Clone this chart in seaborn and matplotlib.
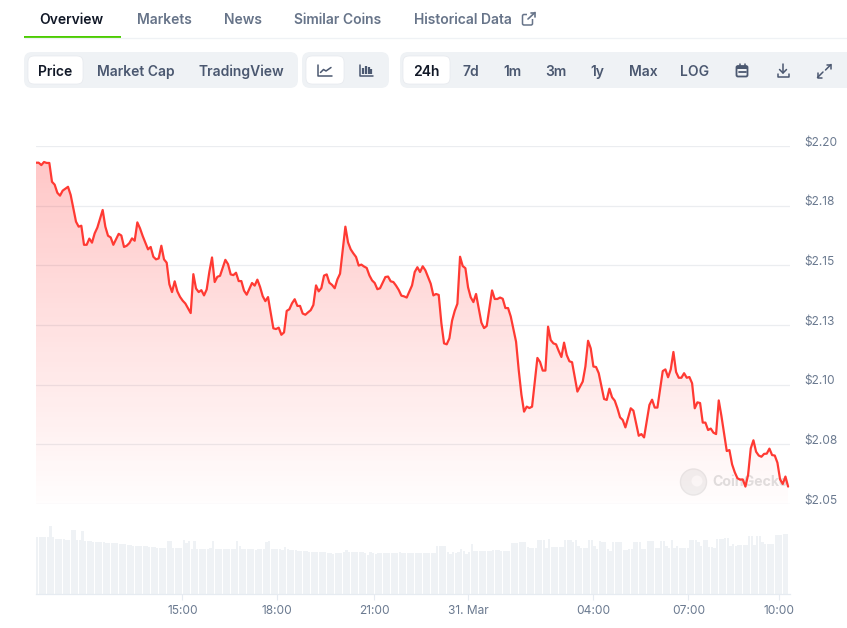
import numpy as np
import matplotlib
matplotlib.use("Agg")
import matplotlib.pyplot as plt
from matplotlib.patches import FancyBboxPatch, Circle, Rectangle
from matplotlib.colors import LinearSegmentedColormap
from matplotlib.transforms import ScaledTranslation
import seaborn as sns

# ---------- data ----------
price_samples = [0,1,2,3,4,5,6,7,8,9,10,12,13,14,15,16,17,18,19,20,21,22,23,25,26,27,28,29,31,32,33,34,35,36,37,38,39,40,
 42,43,44,45,46,47,48,49,50,51,52,53,54,55,56,57,58,59,60,61,62,63,64,65,66,67,68,69,71,72,73,74,75,76,77,78,79,81,82,83,84,85,86,87,
 89,90,91,92,93,94,95,96,97,98,99,100,101,102,103,104,105,106,107,108,109,110,111,112,113,114,116,117,118,119,120,121,122,123,124,125,126,127,128,129,
 131,132,133,134,135,136,137,138,139,141,142,143,144,145,146,148,149,150,151,152,153,154,155,156,157,158,159,160,161,162,163,164,165,166,167,168,169,
 171,172,173,174,175,176,177,178,180,181,182,183,184,185,186,188,189,190,191,192,193,194,195,196,197,198,199,200,201,203,205,206,207,208,209,210,211,
 213,214,215,216,217,218,219,220,221,223,224,226,227,228,230,231,232,233,235,236,237,238,239,240,241,242,243,244,245,246,247,248,249,250,251,252,253,254,255,
 256,257,258,259,260,261,262,263,264,265,266,267,268,269,270,271,272,273,274,275,276,277,278,279,280,281,282]
price_values = [2.1930,2.1930,2.1920,2.1933,2.1929,2.1929,2.1850,2.1838,2.1804,2.1792,2.1813,2.1829,2.1795,2.1739,2.1683,2.1662,2.1666,2.1586,2.1586,2.1612,2.1595,2.1634,2.1658,2.1732,2.1662,2.1624,2.1617,2.1586,2.1632,2.1625,2.1577,2.1582,2.1593,2.1613,2.1603,2.1680,2.1655,2.1623,
 2.1567,2.1577,2.1536,2.1525,2.1529,2.1582,2.1525,2.1511,2.1421,2.1388,2.1433,2.1391,2.1368,2.1352,2.1340,2.1320,2.1300,2.1463,2.1403,2.1388,2.1396,2.1374,2.1399,2.1473,2.1533,2.1430,2.1452,2.1456,2.1523,2.1505,2.1462,2.1459,2.1469,2.1434,2.1434,2.1394,2.1377,2.1426,2.1415,2.1440,2.1410,2.1371,2.1350,2.1367,
 2.1236,2.1233,2.1239,2.1209,2.1219,2.1309,2.1316,2.1341,2.1358,2.1330,2.1330,2.1298,2.1293,2.1303,2.1312,2.1334,2.1416,2.1391,2.1405,2.1457,2.1462,2.1427,2.1418,2.1404,2.1441,2.1465,2.1662,2.1596,2.1567,2.1550,2.1535,2.1499,2.1503,2.1495,2.1489,2.1458,2.1437,2.1426,2.1400,2.1404,
 2.1451,2.1453,2.1433,2.1430,2.1415,2.1397,2.1373,2.1370,2.1365,2.1416,2.1472,2.1492,2.1472,2.1496,2.1479,2.1423,2.1374,2.1380,2.1376,2.1257,2.1173,2.1169,2.1194,2.1268,2.1309,2.1339,2.1536,2.1497,2.1488,2.1408,2.1366,2.1346,2.1380,2.1320,2.1260,2.1237,2.1246,
 2.1395,2.1359,2.1359,2.1365,2.1360,2.1321,2.1321,2.1286,2.1180,2.1061,2.0959,2.0887,2.0908,2.0902,2.0908,2.1112,2.1095,2.1059,2.1059,2.1243,2.1187,2.1173,2.1169,2.1141,2.1116,2.1176,2.1124,2.1098,2.1094,2.0971,2.1013,2.1076,2.1184,2.1152,2.1076,2.1074,2.1048,
 2.0940,2.0936,2.0983,2.0947,2.0933,2.0901,2.0863,2.0852,2.0821,2.0901,2.0891,2.0786,2.0793,2.0779,2.0915,2.0937,2.0904,2.0904,2.1057,2.1064,2.1031,2.1064,2.1137,2.1053,2.1029,2.1029,2.1048,2.1029,2.1032,2.1006,2.0901,2.0926,2.0923,2.0841,2.0841,2.0810,2.0816,2.0799,2.0793,
 2.0934,2.0869,2.0796,2.0722,2.0726,2.0666,2.0633,2.0608,2.0602,2.0603,2.0573,2.0622,2.0733,2.0767,2.0719,2.0703,2.0698,2.0710,2.0711,2.0732,2.0705,2.0703,2.0673,2.0603,2.0584,2.0615,2.0573]
volume_values = [171,171,171,171,171,205,171,165,165,165,165,162,162,193,193,162,162,189,159,159,159,157,157,157,157,157,154,154,154,154,
 153,151,151,150,148,148,145,145,145,145,145,145,143,142,142,140,140,139,139,160,160,139,139,139,139,163,154,160,136,160,
 136,136,136,136,136,139,160,136,136,136,136,136,136,136,136,160,145,136,136,136,136,136,133,136,136,136,157,160,136,136,
 136,136,133,142,136,133,133,133,130,130,130,130,127,127,127,127,127,127,127,124,124,121,124,124,124,127,133,127,127,127,
 127,127,127,124,118,127,124,121,124,124,124,124,124,124,124,124,127,124,124,124,124,124,124,124,124,124,124,124,124,124,
 145,145,145,145,127,121,127,124,127,136,130,121,127,151,130,130,130,130,130,130,130,133,133,133,130,130,130,130,154,154,
 154,157,157,157,142,139,139,139,163,163,163,139,166,142,142,142,142,142,163,163,163,157,163,145,139,139,139,163,163,145,
 136,160,157,157,136,130,157,157,157,157,133,133,136,136,157,157,157,136,136,160,160,160,139,139,160,160,145,139,163,139,
 145,139,139,139,139,163,163,163,157,145,163,163,142,142,139,166,166,166,169,169,145,151,145,148,148,148,148,175,175,148,
 175,175,157,151,151,151,151,178,178,178,181,181]
price_ticks = [2.20, 2.175, 2.15, 2.125, 2.10, 2.075, 2.05]
price_labels = ["$2.20", "$2.18", "$2.15", "$2.13", "$2.10", "$2.08", "$2.05"]
time_ticks = [54.9, 90.5, 126.8, 162.1, 209.0, 244.6, 278.7]
time_labels = ["15:00", "18:00", "21:00", "31. Mar", "04:00", "07:00", "10:00"]
tabs = ["Overview", "Markets", "News", "Similar Coins", "Historical Data"]
chart_modes = ["Price", "Market Cap", "TradingView"]
ranges = ["24h", "7d", "1m", "3m", "1y", "Max", "LOG"]

# ---------- style ----------
sns.set_style("white")
plt.rcParams["font.family"] = ["Inter", "DejaVu Sans"]
W, H = 847, 628
fig = plt.figure(figsize=(W / 100, H / 100), dpi=100, facecolor="white")

def px_axes(l, t, r, b, **kw):
    return fig.add_axes([l / W, 1 - b / H, (r - l) / W, (b - t) / H], **kw)

TXT_DARK = "#111827"
TXT_MID = "#4B5870"
TXT_TAB = "#677489"
TXT_AX = "#6B7A90"
PILL = "#EFF2F5"

# ---------- UI chrome ----------
ui = fig.add_axes([0, 0, 1, 1], zorder=0)
ui.set_xlim(0, W); ui.set_ylim(H, 0); ui.axis("off")

ui.plot([24, 847], [37.5, 37.5], color="#EFF2F5", lw=0.9, solid_capstyle="butt")
ui.add_patch(Rectangle((24, 36), 97, 2, color="#4BCC00", lw=0))
for s, x, c in zip(tabs, [39.5, 137, 224, 294, 414.5], [TXT_DARK] + [TXT_TAB] * 4):
    ui.text(x, 20, s, ha="left", va="center", fontsize=10.0, color=c, weight="semibold")

def pill(x0, x1, y0, y1, fc, r=8, ec="none"):
    ui.add_patch(FancyBboxPatch((x0, y0), x1 - x0, y1 - y0,
                                boxstyle=f"round,pad=0,rounding_size={r}",
                                fc=fc, ec=ec, lw=0.5, mutation_aspect=1))

pill(24, 298, 52, 88, PILL)
pill(302, 389, 52, 88, PILL)
pill(400, 860, 52, 88, PILL)
pill(28, 83, 56, 84, "white", r=6, ec="#E6E9EE")
pill(306, 344, 56, 84, "white", r=6, ec="#E6E9EE")
pill(403, 450, 56, 84, "white", r=6, ec="#E6E9EE")

for s, x, c in zip(chart_modes, [38, 97, 198.5], [TXT_DARK, TXT_MID, TXT_MID]):
    ui.text(x, 72, s, ha="left", va="center", fontsize=10.0, color=c, weight="semibold")
for s, x, c in zip(ranges, [426.5, 471, 512, 556, 597, 643, 695], [TXT_DARK] + [TXT_MID] * 6):
    ui.text(x, 72, s, ha="center", va="center", fontsize=10.0, color=c, weight="semibold")

ic = dict(color=TXT_MID, lw=1.1, solid_capstyle="round", solid_joinstyle="round")
# external link
ui.add_patch(FancyBboxPatch((522.5, 14.5), 10, 10.5, boxstyle="round,pad=0,rounding_size=1.5", fc="none", ec=TXT_TAB, lw=1.1))
ui.add_patch(Rectangle((527, 11), 9, 8, fc="white", ec="none"))
ui.plot([528, 535], [19, 12.5], color=TXT_TAB, lw=1.2)
ui.plot([530.5, 535, 535], [12.5, 12.5, 17], color=TXT_TAB, lw=1.2)
# line-chart icon
ui.plot([318, 318, 331.5], [65, 76, 76], **ic)
ui.plot([320.5, 323.5, 326, 331], [72.5, 69.5, 71, 67.5], **ic)
# candle icon
ui.plot([359.5, 359.5, 373], [65, 76, 76], **ic)
for x, a, b in [(362.5, 68, 73.5), (365.5, 65.5, 73.5), (368.5, 67, 73.5), (371, 68.5, 73.5)]:
    ui.plot([x, x], [a, b], color=TXT_MID, lw=1.6, solid_capstyle="butt")
# calendar icon
ui.add_patch(FancyBboxPatch((736.5, 66), 11, 10.5, boxstyle="round,pad=0,rounding_size=1.5", fc="none", ec=TXT_MID, lw=1.3))
ui.add_patch(Rectangle((736.5, 66), 11, 3, fc=TXT_MID, ec="none"))
ui.plot([738.5, 745.5], [72, 72], color=TXT_MID, lw=1.3)
ui.plot([739.5, 739.5], [64, 66], **ic); ui.plot([744.5, 744.5], [64, 66], **ic)
# download icon
ui.plot([783, 783], [64, 72.5], **ic)
ui.plot([779.5, 783, 786.5], [69.5, 73, 69.5], **ic)
ui.plot([777.5, 777.5, 788.5, 788.5], [73.5, 77, 77, 73.5], **ic)
# fullscreen icon
ui.plot([826.5, 831, 831], [64.5, 64.5, 69], **ic); ui.plot([831, 825.5], [64.5, 70], **ic)
ui.plot([817.5, 817.5, 822], [73, 77.5, 77.5], **ic); ui.plot([817.5, 823], [77.5, 72], **ic)

# watermark
ui.add_patch(Circle((693.5, 482), 13, fc="#F1F1F1", ec="#E8E8E8", lw=1))
ui.add_patch(Circle((697, 481), 5.5, fc="#FAFAFA", ec="none"))
ui.text(712, 482, "CoinGecko", ha="left", va="center", fontsize=10.2, color="#E0E0E0", weight="bold")

# ---------- price chart ----------
X0, X1 = 36, 790
S_MAX = (X1 - X0) / 2.667
ax = px_axes(X0, 146, X1, 504, zorder=2)
ax.patch.set_alpha(0)

cmap = LinearSegmentedColormap.from_list("fade", [(1, 0.22, 0.22, 0.28), (1, 0.22, 0.22, 0.01)])
top = max(price_values)
grad = ax.imshow(np.linspace(0, 1, 256)[:, None], cmap=cmap, vmin=0, vmax=1, aspect="auto",
                 extent=(0, S_MAX, price_ticks[-1], top), origin="upper", zorder=1, interpolation="bilinear")
area = ax.fill_between(price_samples, price_values, price_ticks[-1], color="none", lw=0)
grad.set_clip_path(area.get_paths()[0], transform=ax.transData)

sns.lineplot(x=price_samples, y=price_values, ax=ax, color="#FF3A33", linewidth=1.6,
             estimator=None, errorbar=None, zorder=4)
ax.set_xlim(0, S_MAX)
ax.set_ylim(price_ticks[-1], price_ticks[0])
ax.set_xlabel(""); ax.set_ylabel("")
ax.set_xticks([])
ax.set_yticks(price_ticks)
ax.set_yticklabels(price_labels, va="center", color=TXT_AX, fontsize=8.6)
ax.yaxis.tick_right()
ax.tick_params(axis="y", length=0, pad=10.5)
for lab in ax.get_yticklabels():
    lab.set_transform(lab.get_transform() + ScaledTranslation(0, 3.2 / 100, fig.dpi_scale_trans))
ax.grid(axis="y", color="#EBEDF0", lw=0.9)
ax.set_axisbelow(True)
sns.despine(ax=ax, left=True, right=True, top=True, bottom=True)

# ---------- volume chart ----------
vax = px_axes(X0, 520, X1, 594.3, zorder=2)
vax.patch.set_alpha(0)
vol_samples = list(range(len(volume_values)))
sns.barplot(x=vol_samples, y=volume_values, ax=vax, native_scale=True, color="#EFF2F5",
            saturation=1, width=0.82, linewidth=0, errorbar=None)
vax.set_xlim(-0.42, S_MAX - 0.42)
vax.set_ylim(0, 223)
vax.set_xlabel(""); vax.set_ylabel("")
vax.set_yticks([])
vax.set_xticks([t - 0.42 for t in time_ticks])
vax.set_xticklabels(time_labels, color=TXT_AX, fontsize=8.6)
vax.tick_params(axis="x", length=4, width=0.8, color="#E6EBF1", pad=3.5, bottom=True)
sns.despine(ax=vax, left=True, right=True, top=True, bottom=False)
vax.spines["bottom"].set_color("#E6EBF1")
vax.spines["bottom"].set_linewidth(0.9)

fig.savefig("out.png", dpi=100)
